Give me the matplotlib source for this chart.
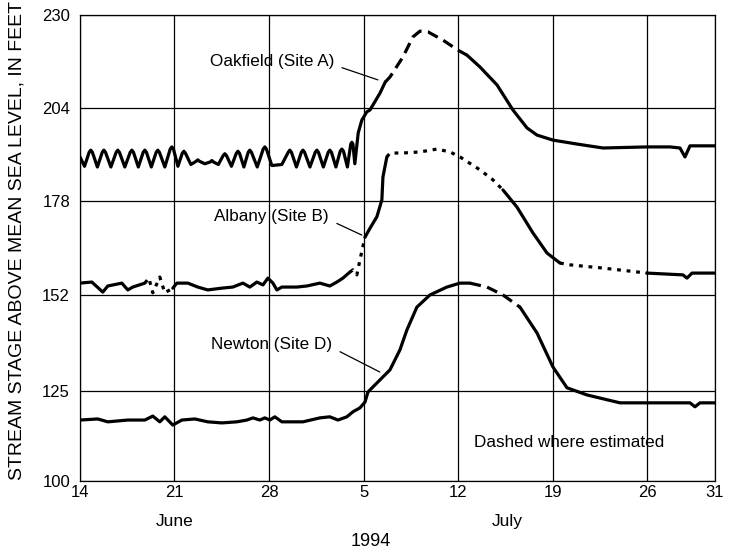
import numpy as np
import matplotlib
matplotlib.use("Agg")
import matplotlib.pyplot as plt
import matplotlib.transforms as mtransforms

plt.rcParams['font.family'] = ['Liberation Sans', 'DejaVu Sans']

# days counted from 14 June 1994 (day 0) to 31 July (day 47)
xtick_days = [0, 7, 14, 21, 28, 35, 42, 47]
xtick_labels = ['14', '21', '28', '5', '12', '19', '26', '31']
ytick_values = [100, 125, 152, 178, 204, 230]

oak_days = [0.0, 0.35, 0.69, 0.81, 0.93, 1.30, 1.66, 1.78, 1.90, 2.30, 2.69, 2.81, 2.93,
            3.33, 3.73, 3.85, 3.97, 4.33, 4.69, 4.81, 4.93, 5.29, 5.65, 5.77, 5.89,
            6.29, 6.69, 6.81, 6.93, 7.26, 7.58, 7.70, 7.82, 8.22, 8.61, 8.73, 8.85,
            9.25, 9.65, 9.77, 9.89, 10.25, 10.61, 10.73, 10.85, 11.22, 11.58, 11.70, 11.82,
            12.14, 12.46, 12.58, 12.70, 13.13, 13.57, 13.69, 13.81, 14.21, 14.95,
            15.42, 15.54, 15.66, 16.03, 16.39, 16.51, 16.63, 17.03, 17.42, 17.54, 17.66,
            18.02, 18.38, 18.50, 18.62, 18.95, 19.27, 19.39, 19.51, 19.80, 20.05, 20.13, 20.21,
            20.35, 20.6, 20.87, 21.24, 21.47, 22.21, 22.6, 22.95, 23.91, 24.65, 25.17,
            25.76, 26.87, 27.98, 28.65, 29.61, 30.87, 32.05, 33.09, 33.83, 35.01, 36.79,
            38.71, 41.97, 43.67, 44.41, 44.78, 45.15, 47.0]
oak_stage = [190.5, 187.8, 191.7, 192.3, 191.7, 187.6, 191.7, 192.3, 191.7, 187.6, 191.7, 192.3, 191.7,
             187.6, 191.7, 192.3, 191.7, 187.6, 191.7, 192.3, 191.7, 187.6, 191.7, 192.3, 191.7,
             187.6, 192.6, 193.2, 192.6, 187.8, 191.4, 192.0, 191.4, 188.3, 189.2, 189.6, 189.2,
             188.5, 189.0, 189.4, 189.0, 188.3, 190.8, 191.3, 190.8, 187.8, 191.4, 192.0, 191.4,
             187.6, 191.7, 192.3, 191.7, 187.6, 192.6, 193.2, 192.6, 188.0, 188.3,
             191.7, 192.3, 191.7, 187.6, 191.7, 192.3, 191.7, 187.6, 191.7, 192.3, 191.7,
             187.6, 191.7, 192.3, 191.7, 187.6, 192.0, 192.6, 192.0, 187.6, 194.0, 194.5, 194.0,
             188.5, 197.1, 200.7, 203.0, 203.5, 208.2, 211.3, 212.7, 218.3, 223.9, 225.5,
             225.3, 223.0, 220.2, 218.8, 215.5, 210.5, 203.5, 198.5, 196.5, 195.1, 194.0,
             192.9, 193.2, 193.2, 192.9, 190.4, 193.5, 193.5]
oak_estimated = [(22.6, 28.65)]

alb_days = [0.0, 0.89, 1.70, 2.07, 3.11, 3.55, 3.92, 4.81, 5.11, 5.40, 5.92, 6.29, 6.88,
            7.18, 7.99, 8.73, 9.47, 10.51, 11.32, 12.07, 12.58, 13.10, 13.55, 13.92, 14.29,
            14.58, 14.95, 16.06, 16.80, 17.76, 18.50, 19.02, 19.47, 19.99, 20.21, 20.50,
            20.73, 21.10, 21.47, 21.98, 22.35, 22.43, 22.72, 22.95, 23.91, 25.17, 26.43,
            27.39, 28.13, 29.61, 30.57, 31.31, 32.35, 33.53, 34.57, 35.53, 36.27, 38.71,
            41.97, 44.63, 44.93, 45.30, 47.0]
alb_stage = [155.2, 155.5, 152.7, 154.4, 155.2, 153.3, 154.1, 155.2, 156.6, 152.5, 156.9, 152.5, 153.8,
             155.2, 155.2, 154.1, 153.3, 153.8, 154.1, 155.2, 154.1, 155.5, 154.7, 156.6, 155.2,
             153.3, 154.1, 154.1, 154.4, 155.2, 154.4, 155.5, 156.6, 158.3, 158.9, 157.5,
             161.7, 168.0, 170.5, 173.7, 178.4, 184.8, 190.4, 191.5, 191.5, 191.8, 192.6,
             191.8, 190.4, 186.8, 184.0, 181.2, 176.4, 169.2, 163.6, 160.8, 160.3, 159.4,
             158.0, 157.5, 156.6, 158.0, 158.0]
alb_estimated = [(4.9, 6.7), (20.0, 21.0), (22.72, 31.31), (35.53, 41.97)]

new_days = [0.0, 1.33, 2.07, 3.55, 4.81, 5.40, 5.92, 6.29, 6.88, 7.55, 8.51, 9.47, 10.51,
            11.62, 12.36, 12.81, 13.32, 13.69, 14.06, 14.43, 14.95, 16.51, 17.76, 18.50,
            19.10, 19.76, 20.21, 20.73, 21.10, 21.32, 21.47, 22.21, 22.95, 23.69, 24.20,
            24.94, 25.91, 27.16, 28.13, 28.87, 30.13, 31.31, 32.57, 33.83, 35.01, 36.05,
            37.53, 39.97, 42.41, 45.15, 45.52, 45.89, 47.0]
new_stage = [117.0, 117.3, 116.5, 117.0, 117.0, 118.1, 116.5, 117.9, 115.6, 117.0, 117.3, 116.5, 116.2,
             116.5, 117.0, 117.6, 117.0, 117.6, 117.0, 117.9, 116.5, 116.5, 117.6, 117.9,
             117.0, 117.9, 119.3, 120.4, 122.0, 124.8, 125.4, 128.2, 131.0, 136.6, 142.1,
             148.5, 151.9, 154.1, 155.2, 155.2, 154.1, 151.9, 148.5, 141.3, 131.8, 126.0,
             124.0, 121.8, 121.8, 121.8, 120.7, 121.8, 121.8]
new_estimated = [(28.87, 32.57)]


def draw_series(ax, days, stage, est_ranges, dashes):
    days = np.asarray(days)
    stage = np.asarray(stage)
    mid = (days[:-1] + days[1:]) / 2
    est = np.zeros(len(mid), dtype=bool)
    for a, b in est_ranges:
        est |= (mid > a) & (mid < b)
    start = 0
    for i in range(1, len(est) + 1):
        if i == len(est) or est[i] != est[start]:
            seg = slice(start, i + 1)
            if est[start]:
                ax.plot(days[seg], stage[seg], color='black', lw=2.3,
                        dashes=dashes, dash_capstyle='butt')
            else:
                ax.plot(days[seg], stage[seg], color='black', lw=2.3,
                        solid_capstyle='round', solid_joinstyle='round')
            start = i


fig = plt.figure(figsize=(7.39, 5.5), dpi=100)
ax = fig.add_axes([0.108, 0.1255, 0.8595, 0.8472])

draw_series(ax, oak_days, oak_stage, oak_estimated, (3.5, 2))
draw_series(ax, alb_days, alb_stage, alb_estimated, (1.2, 1.8))
draw_series(ax, new_days, new_stage, new_estimated, (3.5, 2))

ax.set_xlim(0, 47)
ax.set_ylim(100, 230)
ax.set_xticks(xtick_days)
ax.set_xticklabels(xtick_labels)
ax.set_yticks(ytick_values)
ax.tick_params(length=0, labelsize=12)
ax.tick_params(axis='x', pad=3)
ax.tick_params(axis='y', pad=7)
ax.grid(True, color='black', lw=0.9)
ax.set_axisbelow(True)
for s in ax.spines.values():
    s.set_linewidth(0.9)

trans = mtransforms.blended_transform_factory(ax.transData, ax.transAxes)
ax.text(7, -0.088, 'June', transform=trans, ha='center', va='center', fontsize=12.5)
ax.text(31.6, -0.088, 'July', transform=trans, ha='center', va='center', fontsize=12.5)
ax.text(21.5, -0.129, '1994', transform=trans, ha='center', va='center', fontsize=13)

fig.text(0.023, 0.562, 'STREAM STAGE ABOVE MEAN SEA LEVEL, IN FEET', rotation=90,
         ha='center', va='center', fontsize=14)

arrow = dict(arrowstyle='-', color='black', lw=0.9, shrinkA=4, shrinkB=0, relpos=(1.0, 0.3))
ax.annotate('Oakfield (Site A)', xy=(22.06, 211.9), xytext=(14.2, 216.9),
            ha='center', va='center', fontsize=12.3, arrowprops=arrow)
ax.annotate('Albany (Site B)', xy=(20.87, 168.6), xytext=(14.2, 173.7),
            ha='center', va='center', fontsize=12.3, arrowprops=arrow)
ax.annotate('Newton (Site D)', xy=(22.2, 130.4), xytext=(14.2, 138.0),
            ha='center', va='center', fontsize=12.3, arrowprops=arrow)
ax.text(36.2, 110.6, 'Dashed where estimated', ha='center', va='center', fontsize=12.3)

plt.savefig('out.png', dpi=100)
